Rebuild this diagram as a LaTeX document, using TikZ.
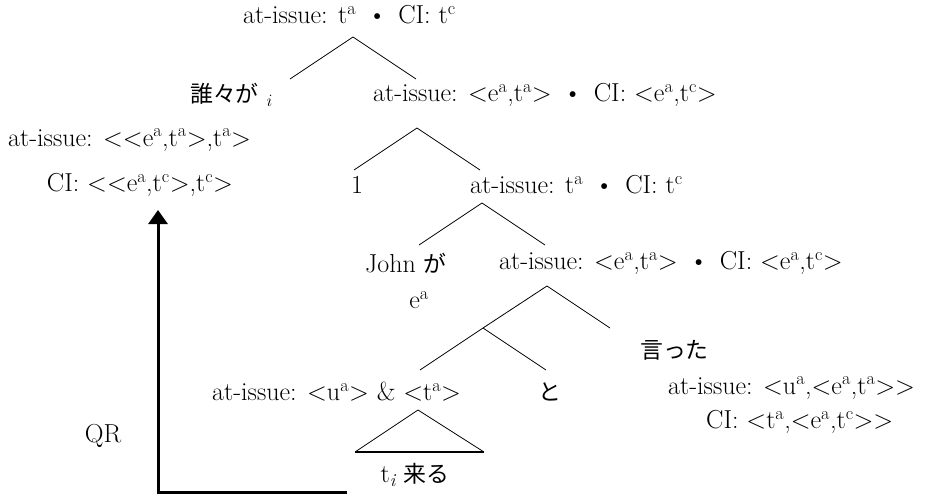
\documentclass[tikz,border=0pt]{standalone}
\usepackage{fontspec}
\newfontfamily\jpfont[Scale=0.88]{Noto Sans CJK JP}
\usetikzlibrary{arrows.meta}
\newcommand{\Sa}{\textsuperscript{a}}
\newcommand{\Sc}{\textsuperscript{c}}
\newcommand{\blt}{\hspace{0.45em}\textbullet\hspace{0.45em}}

\begin{document}
\begin{tikzpicture}[x=1pt,y=-1pt,
    lbl/.style={inner sep=0pt,anchor=west,font=\fontsize{26}{30}\selectfont},
    word/.style={inner sep=0pt,font=\fontsize{26}{30}\selectfont},
    br/.style={line width=0.8pt}]
  \useasboundingbox (0,0) rectangle (933,497);
  % labels
  \node[lbl] (root) at (243,15) {at-issue: t\Sa\blt CI: t\Sc};
  \node[lbl] (dare) at (190,95) {{\jpfont 誰々が} $_i$};
  \node[lbl] (vp1) at (373,95) {at-issue: <e\Sa,t\Sa>\blt CI: <e\Sa,t\Sc>};
  \node[lbl] (qa) at (8,140) {at-issue: <{}<e\Sa,t\Sa>,t\Sa>};
  \node[word] (qc) at (140,185) {CI: <{}<e\Sa,t\Sc>,t\Sc>};
  \node[word] (one) at (357,185) {1};
  \node[lbl] (s1) at (470,185) {at-issue: t\Sa\blt CI: t\Sc};
  \node[lbl] (john) at (365,263) {John {\jpfont が}};
  \node[word] (je) at (419,300) {e\Sa};
  \node[lbl] (vp2) at (499,263) {at-issue: <e\Sa,t\Sa>\blt CI: <e\Sa,t\Sc>};
  \node[lbl] (itta) at (640,350) {\jpfont 言った};
  \node[lbl] (cp) at (212,392) {at-issue: <u\Sa> \& <t\Sa>};
  \node[word] (to) at (550,392) {\jpfont と};
  \node[lbl] (va) at (668,388) {at-issue: <u\Sa,<e\Sa,t\Sa>{}>};
  \node[lbl] (vc) at (706,422) {CI: <t\Sa,<e\Sa,t\Sc>{}>};
  \node[word] (kuru) at (415,475) {t\textsubscript{\itshape i} {\jpfont 来る}};
  \node[word] (qr) at (103,436) {QR};
  % branches
  \foreach \n/\x/\y in {a/353/37, b/417/128, c/482/203}{
    \coordinate (top\n) at (\x,\y);
    \draw[br] (top\n) +(-63,42) -- (top\n) -- +(63,42);
  }
  \coordinate (topd) at (547,286);
  \coordinate (mid) at (483,328);
  \draw[br] (topd) -- (mid) -- +(-63,42);
  \draw[br] (mid) -- +(63,42);
  \draw[br] (topd) -- +(63,42);
  % triangle
  \coordinate (tri) at (418,410);
  \draw[br] (tri) -- (355,452);
  \draw[br] (tri) -- (484,452);
  \draw[line width=2pt] (355,452) -- (484,452);
  % QR arrow
  \coordinate (qrs) at (347,492);
  \coordinate (qre) at (158,210);
  \draw[line width=3pt,-{Triangle[width=19pt,length=14pt]}] (qrs) -| (qre);
\end{tikzpicture}
\end{document}
